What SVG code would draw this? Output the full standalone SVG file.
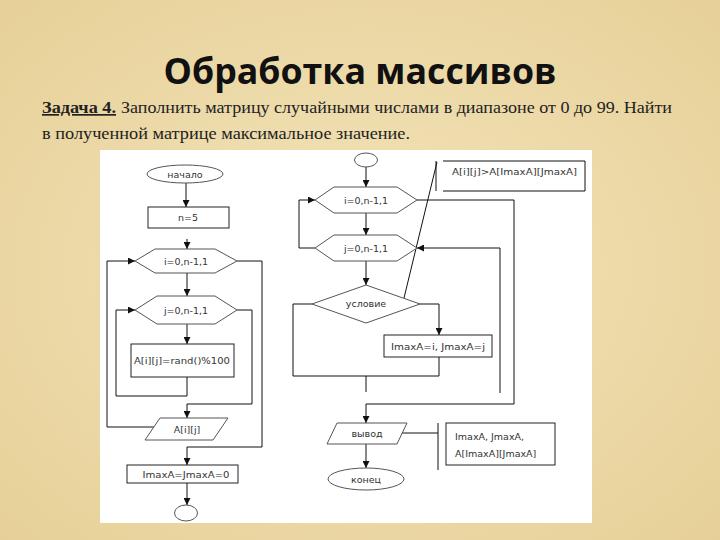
<svg xmlns="http://www.w3.org/2000/svg" width="720" height="540" viewBox="0 0 720 540">
<defs>
<radialGradient id="bg" cx="50%" cy="50%" r="75%">
<stop offset="0" stop-color="#f3e4ba"/>
<stop offset="1" stop-color="#e6cf96"/>
</radialGradient>
<marker id="ah" viewBox="0 0 10 10" refX="10" refY="5" markerWidth="7" markerHeight="7" markerUnits="userSpaceOnUse" orient="auto">
<path d="M0,0 L10,5 L0,10 z" fill="#111"/>
</marker>
<style>
.t{font-family:"DejaVu Sans","Liberation Sans",sans-serif;font-size:9.5px;fill:#333;}
.s{fill:#fff;stroke:#555;stroke-width:1;}
.b{fill:#fff;stroke:#222;stroke-width:1;}
.c{fill:none;stroke:#111;stroke-width:1;}
.a{marker-end:url(#ah);}
</style>
</defs>
<rect width="720" height="540" fill="url(#bg)"/>
<text x="360" y="84" text-anchor="middle" font-family="'Open Sans','Liberation Sans',sans-serif" font-weight="bold" font-size="35" fill="#111" textLength="393" lengthAdjust="spacingAndGlyphs">Обработка массивов</text>
<text x="42" y="113" font-family="'Liberation Serif',serif" font-size="17" fill="#222"><tspan font-weight="bold" text-decoration="underline" textLength="74" lengthAdjust="spacingAndGlyphs">Задача 4.</tspan><tspan x="121" textLength="551" lengthAdjust="spacingAndGlyphs">Заполнить матрицу случайными числами в диапазоне от 0 до 99. Найти</tspan></text>
<text x="42" y="139" font-family="'Liberation Serif',serif" font-size="17" fill="#222" textLength="368" lengthAdjust="spacingAndGlyphs">в полученной матрице максимальное  значение.</text>
<rect x="100" y="150" width="492" height="373" fill="#fff"/>

<g id="connectors">
<line class="c a" x1="186" y1="183" x2="186" y2="207"/>
<line class="c a" x1="187" y1="239" x2="187" y2="249"/>
<line class="c a" x1="187" y1="273" x2="187" y2="296"/>
<line class="c a" x1="187" y1="324" x2="187" y2="344"/>
<polyline class="c a" points="187,377 187,396 116,396 116,310 135,310"/>
<polyline class="c a" points="237,310 252,310 252,404 187,404 187,418"/>
<polyline class="c a" points="154,427 107,427 107,261 135,261"/>
<polyline class="c a" points="237,261 262,261 262,447 187,447 187,465"/>
<line class="c a" x1="187" y1="483" x2="187" y2="505"/>

<line class="c a" x1="366" y1="167" x2="366" y2="187"/>
<line class="c a" x1="366" y1="213" x2="366" y2="235"/>
<line class="c a" x1="366" y1="261" x2="366" y2="285"/>
<polyline class="c a" points="315,248 299,248 299,200 315,200"/>
<polyline class="c a" points="417,200 514,200 514,404 366,404 366,423"/>
<polyline class="c a" points="500,393 500,248 417,248"/>
<polyline class="c" points="312,304 293,304 293,376 439,376"/>
<polyline class="c a" points="420,304 439,304 439,335"/>
<line class="c" x1="439" y1="357" x2="439" y2="376"/>
<line class="c" x1="366" y1="376" x2="366" y2="392"/>
<line class="c a" x1="366" y1="444" x2="366" y2="468"/>
<line class="c" x1="437" y1="162" x2="404" y2="298" stroke-width="0.8"/>
<line class="c" x1="402" y1="433" x2="438" y2="433"/>
</g>

<g id="start1"><ellipse class="s" cx="185" cy="174" rx="38" ry="9"/><text class="t" x="185" y="177.5" text-anchor="middle">начало</text></g>
<g id="n5"><rect class="b" x="148" y="207" width="81" height="21"/><text class="t" x="188" y="221" text-anchor="middle">n=5</text></g>
<g id="loopI1"><polygon class="s" points="135,261 155,249 215,249 237,261 215,273 155,273"/><text class="t" x="186" y="264.5" text-anchor="middle">i=0,n-1,1</text></g>
<g id="loopJ1"><polygon class="s" points="135,310 157,296 215,296 237,310 215,324 157,324"/><text class="t" x="186" y="313.5" text-anchor="middle">j=0,n-1,1</text></g>
<g id="fill"><rect class="b" x="131" y="344" width="103" height="33"/><text class="t" x="182" y="364" text-anchor="middle" textLength="96" lengthAdjust="spacingAndGlyphs">A[i][j]=rand()%100</text></g>
<g id="print1"><polygon class="s" points="160,418 228,418 213,440 145,440"/><text class="t" x="187" y="432.5" text-anchor="middle">A[i][j]</text></g>
<g id="init"><rect class="b" x="127" y="465" width="111" height="18"/><text class="t" x="186" y="477.5" text-anchor="middle" textLength="87" lengthAdjust="spacingAndGlyphs">ImaxA=JmaxA=0</text></g>
<g id="link1"><ellipse class="s" cx="186" cy="513" rx="11.5" ry="8"/></g>

<g id="link2"><ellipse class="s" cx="366" cy="160" rx="11.5" ry="7"/></g>
<g id="loopI2"><polygon class="s" points="315,200 334,187 397,187 417,200 397,213 334,213"/><text class="t" x="366" y="203.5" text-anchor="middle">i=0,n-1,1</text></g>
<g id="loopJ2"><polygon class="s" points="315,248 334,235 397,235 417,248 397,261 334,261"/><text class="t" x="366" y="251.5" text-anchor="middle">j=0,n-1,1</text></g>
<g id="cond"><polygon class="s" points="312,304 366,285 420,304 366,323"/><text class="t" x="366" y="307" text-anchor="middle">условие</text></g>
<g id="assign"><rect class="b" x="384" y="335" width="108" height="22"/><text class="t" x="438" y="349.5" text-anchor="middle" textLength="94" lengthAdjust="spacingAndGlyphs">ImaxA=i, JmaxA=j</text></g>
<g id="print2"><polygon class="s" points="337,423 407,423 397,444 327,444"/><text class="t" x="367" y="437" text-anchor="middle">вывод</text></g>
<g id="end"><ellipse class="s" cx="366" cy="479" rx="38" ry="11"/><text class="t" x="366" y="483" text-anchor="middle" font-size="10.5">конец</text></g>
<g id="note1"><line class="c" x1="436" y1="161" x2="436" y2="191"/><polyline class="c" points="443,161 585,161 585,191 443,191"/><text class="t" x="452" y="175" textLength="125" lengthAdjust="spacingAndGlyphs">A[i][j]&gt;A[ImaxA][JmaxA]</text></g>
<g id="note2"><line class="c" x1="438" y1="423" x2="438" y2="470"/><rect class="b" x="446" y="423" width="109" height="42"/><text class="t" x="455" y="440">ImaxA, JmaxA,</text><text class="t" x="455" y="457">A[ImaxA][JmaxA]</text></g>
</svg>
